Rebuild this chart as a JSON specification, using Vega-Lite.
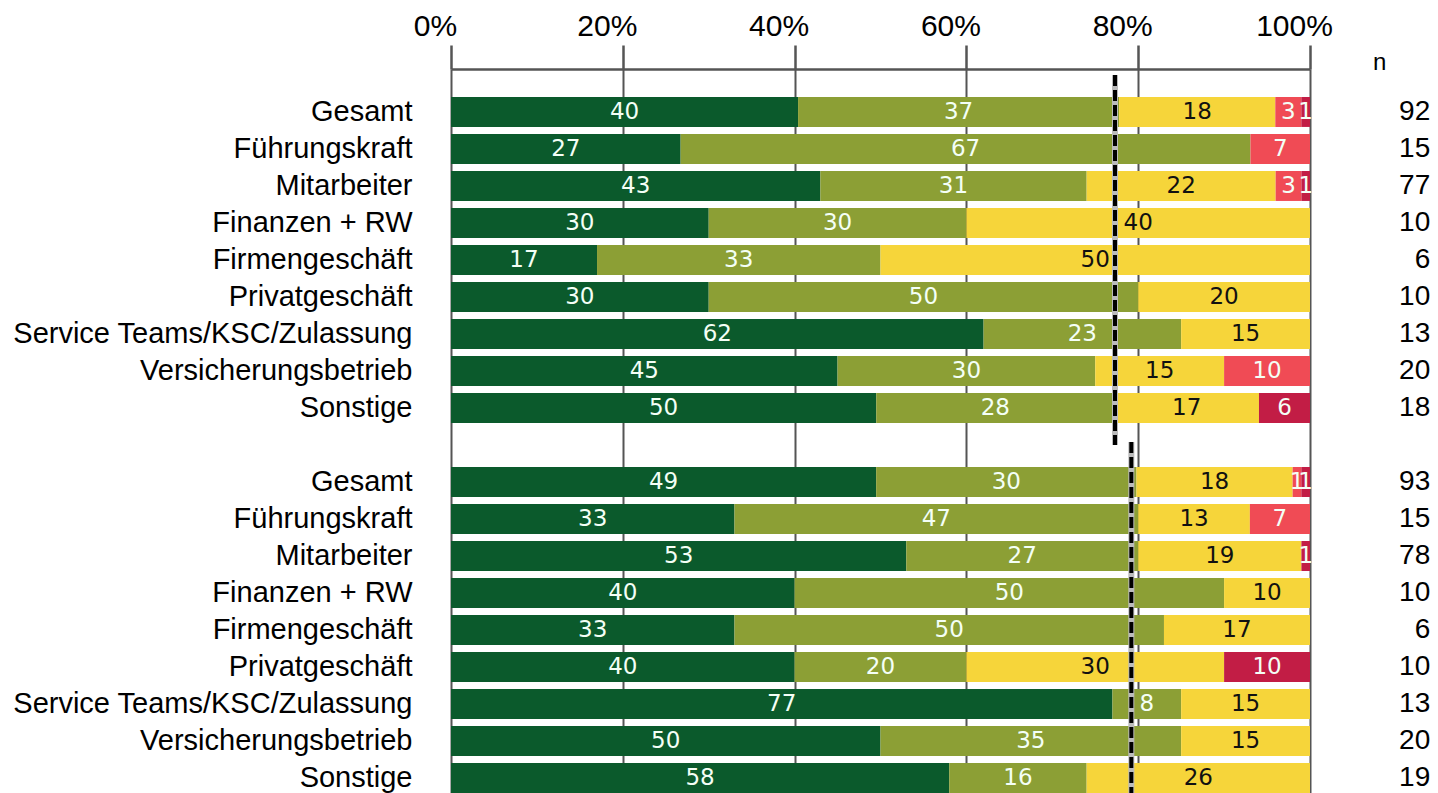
{
  "$schema": "https://vega.github.io/schema/vega-lite/v6.json",
  "autosize": {"type": "none"},
  "width": 859,
  "height": 724,
  "padding": {"left": 451, "top": 69, "right": 128, "bottom": 0},
  "background": "white",
  "view": {"stroke": null},
  "config": {"font": "Liberation Sans"},
  "datasets": {
    "bars": [
      {"row": "Gesamt|1", "cat": "c1", "v": 40}, {"row": "Gesamt|1", "cat": "c2", "v": 37}, {"row": "Gesamt|1", "cat": "c3", "v": 18}, {"row": "Gesamt|1", "cat": "c4", "v": 3}, {"row": "Gesamt|1", "cat": "c5", "v": 1},
      {"row": "Führungskraft|1", "cat": "c1", "v": 27}, {"row": "Führungskraft|1", "cat": "c2", "v": 67}, {"row": "Führungskraft|1", "cat": "c4", "v": 7},
      {"row": "Mitarbeiter|1", "cat": "c1", "v": 43}, {"row": "Mitarbeiter|1", "cat": "c2", "v": 31}, {"row": "Mitarbeiter|1", "cat": "c3", "v": 22}, {"row": "Mitarbeiter|1", "cat": "c4", "v": 3}, {"row": "Mitarbeiter|1", "cat": "c5", "v": 1},
      {"row": "Finanzen + RW|1", "cat": "c1", "v": 30}, {"row": "Finanzen + RW|1", "cat": "c2", "v": 30}, {"row": "Finanzen + RW|1", "cat": "c3", "v": 40},
      {"row": "Firmengeschäft|1", "cat": "c1", "v": 17}, {"row": "Firmengeschäft|1", "cat": "c2", "v": 33}, {"row": "Firmengeschäft|1", "cat": "c3", "v": 50},
      {"row": "Privatgeschäft|1", "cat": "c1", "v": 30}, {"row": "Privatgeschäft|1", "cat": "c2", "v": 50}, {"row": "Privatgeschäft|1", "cat": "c3", "v": 20},
      {"row": "Service Teams/KSC/Zulassung|1", "cat": "c1", "v": 62}, {"row": "Service Teams/KSC/Zulassung|1", "cat": "c2", "v": 23}, {"row": "Service Teams/KSC/Zulassung|1", "cat": "c3", "v": 15},
      {"row": "Versicherungsbetrieb|1", "cat": "c1", "v": 45}, {"row": "Versicherungsbetrieb|1", "cat": "c2", "v": 30}, {"row": "Versicherungsbetrieb|1", "cat": "c3", "v": 15}, {"row": "Versicherungsbetrieb|1", "cat": "c4", "v": 10},
      {"row": "Sonstige|1", "cat": "c1", "v": 50}, {"row": "Sonstige|1", "cat": "c2", "v": 28}, {"row": "Sonstige|1", "cat": "c3", "v": 17}, {"row": "Sonstige|1", "cat": "c5", "v": 6},
      {"row": "Gesamt|2", "cat": "c1", "v": 49}, {"row": "Gesamt|2", "cat": "c2", "v": 30}, {"row": "Gesamt|2", "cat": "c3", "v": 18}, {"row": "Gesamt|2", "cat": "c4", "v": 1}, {"row": "Gesamt|2", "cat": "c5", "v": 1},
      {"row": "Führungskraft|2", "cat": "c1", "v": 33}, {"row": "Führungskraft|2", "cat": "c2", "v": 47}, {"row": "Führungskraft|2", "cat": "c3", "v": 13}, {"row": "Führungskraft|2", "cat": "c4", "v": 7},
      {"row": "Mitarbeiter|2", "cat": "c1", "v": 53}, {"row": "Mitarbeiter|2", "cat": "c2", "v": 27}, {"row": "Mitarbeiter|2", "cat": "c3", "v": 19}, {"row": "Mitarbeiter|2", "cat": "c5", "v": 1},
      {"row": "Finanzen + RW|2", "cat": "c1", "v": 40}, {"row": "Finanzen + RW|2", "cat": "c2", "v": 50}, {"row": "Finanzen + RW|2", "cat": "c3", "v": 10},
      {"row": "Firmengeschäft|2", "cat": "c1", "v": 33}, {"row": "Firmengeschäft|2", "cat": "c2", "v": 50}, {"row": "Firmengeschäft|2", "cat": "c3", "v": 17},
      {"row": "Privatgeschäft|2", "cat": "c1", "v": 40}, {"row": "Privatgeschäft|2", "cat": "c2", "v": 20}, {"row": "Privatgeschäft|2", "cat": "c3", "v": 30}, {"row": "Privatgeschäft|2", "cat": "c5", "v": 10},
      {"row": "Service Teams/KSC/Zulassung|2", "cat": "c1", "v": 77}, {"row": "Service Teams/KSC/Zulassung|2", "cat": "c2", "v": 8}, {"row": "Service Teams/KSC/Zulassung|2", "cat": "c3", "v": 15},
      {"row": "Versicherungsbetrieb|2", "cat": "c1", "v": 50}, {"row": "Versicherungsbetrieb|2", "cat": "c2", "v": 35}, {"row": "Versicherungsbetrieb|2", "cat": "c3", "v": 15},
      {"row": "Sonstige|2", "cat": "c1", "v": 58}, {"row": "Sonstige|2", "cat": "c2", "v": 16}, {"row": "Sonstige|2", "cat": "c3", "v": 26}
    ],
    "ns": [
      {"row": "Gesamt|1", "n": 92}, {"row": "Führungskraft|1", "n": 15}, {"row": "Mitarbeiter|1", "n": 77}, {"row": "Finanzen + RW|1", "n": 10}, {"row": "Firmengeschäft|1", "n": 6}, {"row": "Privatgeschäft|1", "n": 10}, {"row": "Service Teams/KSC/Zulassung|1", "n": 13}, {"row": "Versicherungsbetrieb|1", "n": 20}, {"row": "Sonstige|1", "n": 18},
      {"row": "Gesamt|2", "n": 93}, {"row": "Führungskraft|2", "n": 15}, {"row": "Mitarbeiter|2", "n": 78}, {"row": "Finanzen + RW|2", "n": 10}, {"row": "Firmengeschäft|2", "n": 6}, {"row": "Privatgeschäft|2", "n": 10}, {"row": "Service Teams/KSC/Zulassung|2", "n": 13}, {"row": "Versicherungsbetrieb|2", "n": 20}, {"row": "Sonstige|2", "n": 19}
    ],
    "line1": [{"x": 0.773, "ya": "Gesamt|1", "yb": "|gap"}],
    "line2": [{"x": 0.792, "ya": "|gap", "yb": "Sonstige|2"}]
  },
  "encoding": {
    "y": {
      "field": "row",
      "type": "nominal",
      "sort": null,
      "scale": {
        "domain": ["Gesamt|1", "Führungskraft|1", "Mitarbeiter|1", "Finanzen + RW|1", "Firmengeschäft|1", "Privatgeschäft|1", "Service Teams/KSC/Zulassung|1", "Versicherungsbetrieb|1", "Sonstige|1", "|gap", "Gesamt|2", "Führungskraft|2", "Mitarbeiter|2", "Finanzen + RW|2", "Firmengeschäft|2", "Privatgeschäft|2", "Service Teams/KSC/Zulassung|2", "Versicherungsbetrieb|2", "Sonstige|2"],
        "paddingInner": 0.19,
        "paddingOuter": 0.378,
        "align": 1
      },
      "axis": {
        "title": null,
        "labelExpr": "split(datum.value, '|')[0]",
        "labelFontSize": 29,
        "labelColor": "black",
        "labelFont": "Liberation Sans",
        "labelPadding": 39,
        "labelLimit": 460,
        "ticks": false,
        "domain": false,
        "grid": false
      }
    }
  },
  "layer": [
    {
      "data": {"name": "bars"},
      "mark": {"type": "bar"},
      "encoding": {
        "x": {
          "field": "v",
          "type": "quantitative",
          "stack": "normalize",
          "scale": {"domain": [0, 1], "nice": false},
          "axis": {
            "orient": "top",
            "title": null,
            "values": [0, 0.2, 0.4, 0.6, 0.8, 1],
            "format": ".0%",
            "labelFontSize": 30,
            "labelColor": "black",
            "labelFont": "Liberation Sans",
            "labelPadding": 4,
            "labelOffset": -16,
            "labelFlush": false,
            "labelOverlap": false,
            "tickSize": 24,
            "tickColor": "#555555",
            "tickWidth": 2.5,
            "domainColor": "#555555",
            "domainWidth": 2.5,
            "grid": true,
            "gridColor": "#555555",
            "gridWidth": 2,
            "gridOpacity": 1
          }
        },
        "order": {"field": "cat", "type": "ordinal", "sort": "ascending"},
        "fill": {
          "field": "cat",
          "type": "nominal",
          "legend": null,
          "scale": {"domain": ["c1", "c2", "c3", "c4", "c5"], "range": ["#0b5a2c", "#8c9f35", "#f6d53a", "#f04b55", "#c21d45"]}
        }
      }
    },
    {
      "data": {"name": "bars"},
      "mark": {"type": "text", "font": "DejaVu Sans", "fontSize": 23, "baseline": "middle", "align": "center"},
      "encoding": {
        "x": {"field": "v", "type": "quantitative", "stack": "normalize", "bandPosition": 0.5},
        "order": {"field": "cat", "type": "ordinal", "sort": "ascending"},
        "text": {"field": "v", "type": "quantitative"},
        "color": {"condition": {"test": "datum.cat === 'c3'", "value": "#111111"}, "value": "#f4fff6"}
      }
    },
    {
      "data": {"name": "line1"},
      "mark": {"type": "rule", "color": "#bbbbbb", "strokeWidth": 6},
      "encoding": {
        "x": {"field": "x", "type": "quantitative"},
        "y": {"field": "ya", "type": "nominal", "bandPosition": -0.73},
        "y2": {"field": "yb", "bandPosition": 0.5}
      }
    },
    {
      "data": {"name": "line1"},
      "mark": {"type": "rule", "color": "black", "strokeWidth": 4, "strokeDash": [11, 4]},
      "encoding": {
        "x": {"field": "x", "type": "quantitative"},
        "y": {"field": "ya", "type": "nominal", "bandPosition": -0.73},
        "y2": {"field": "yb", "bandPosition": 0.5}
      }
    },
    {
      "data": {"name": "line2"},
      "mark": {"type": "rule", "color": "#bbbbbb", "strokeWidth": 6},
      "encoding": {
        "x": {"field": "x", "type": "quantitative"},
        "y": {"field": "ya", "type": "nominal", "bandPosition": 0.4},
        "y2": {"field": "yb", "bandPosition": 1.2}
      }
    },
    {
      "data": {"name": "line2"},
      "mark": {"type": "rule", "color": "black", "strokeWidth": 4, "strokeDash": [11, 4]},
      "encoding": {
        "x": {"field": "x", "type": "quantitative"},
        "y": {"field": "ya", "type": "nominal", "bandPosition": 0.4},
        "y2": {"field": "yb", "bandPosition": 1.2}
      }
    },
    {
      "data": {"name": "ns"},
      "mark": {"type": "text", "font": "Liberation Sans", "fontSize": 28, "align": "right", "baseline": "middle", "color": "black"},
      "encoding": {
        "x": {"datum": 1.14, "type": "quantitative"},
        "text": {"field": "n", "type": "quantitative"}
      }
    },
    {
      "data": {"values": [{"t": "n"}]},
      "mark": {"type": "text", "font": "Liberation Sans", "fontSize": 24, "align": "center", "baseline": "middle", "color": "black", "dy": -49},
      "encoding": {
        "x": {"datum": 1.081, "type": "quantitative"},
        "y": {"datum": "Gesamt|1", "type": "nominal"},
        "text": {"field": "t", "type": "nominal"}
      }
    }
  ]
}
